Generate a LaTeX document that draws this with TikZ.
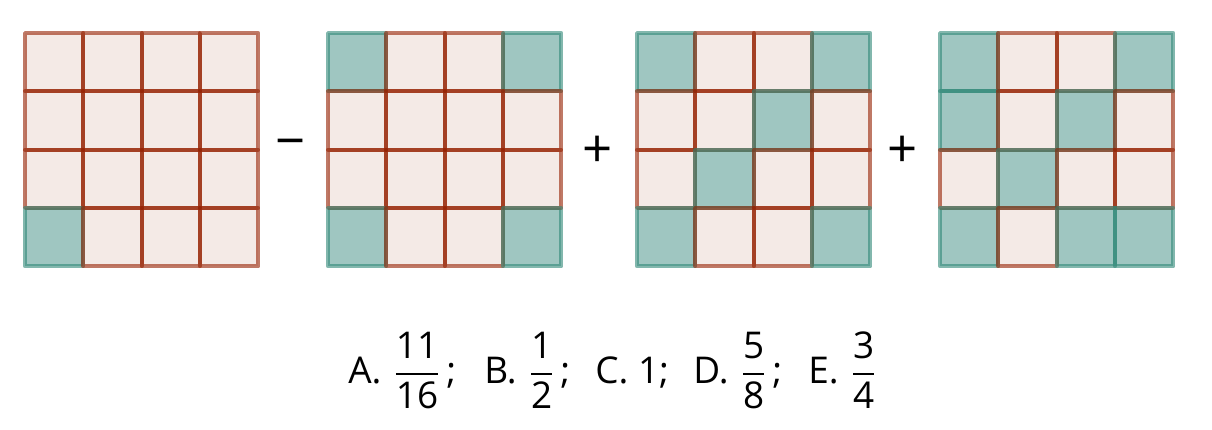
\documentclass[tikz,border=0pt]{standalone}
\usepackage{amsmath}
\usepackage{fontspec}
\setmainfont{Open Sans}
\definecolor{fillc}{HTML}{F4EAE6}
\definecolor{fillt}{HTML}{9FC6C1}
\definecolor{linec}{HTML}{952000}
\definecolor{linet}{HTML}{2F8776}
% one 4x4 board: left edge, rows of c (plain) / t (shaded)
\newcommand\board[2]{%
  \foreach \row [count=\r from 0] in {#2} {
    \foreach \k [count=\c from 0] in \row
      \fill[fill=fill\k] (#1+\c*58.33,33+\r*58.33) rectangle ++(58.33,58.33);
  }
  \foreach \row [count=\r from 0] in {#2} {
    \foreach \k [count=\c from 0] in \row
      \draw[edge, draw=line\k] (#1+\c*58.33,33+\r*58.33) rectangle ++(58.33,58.33);
  }}
\newcommand\frc[2]{$\genfrac{}{}{1.1pt}{0}{\mbox{\fontsize{21}{24}\selectfont #1}}{\mbox{\fontsize{21}{24}\selectfont #2}}$}
\begin{document}
\begin{tikzpicture}[x=0.02cm,y=-0.02cm,
    edge/.style={line width=2.2pt, draw opacity=0.6, line join=round},
    op/.style={font=\fontsize{30}{32}\selectfont, inner sep=0pt},
    answer/.style={anchor=base west, inner sep=0pt, font=\fontsize{21}{25}\selectfont}]
  \useasboundingbox (0,0) rectangle (1212,429);
  \board{25}{{c,c,c,c},{c,c,c,c},{c,c,c,c},{t,c,c,c}}
  \board{328}{{t,c,c,t},{c,c,c,c},{c,c,c,c},{t,c,c,t}}
  \board{637}{{t,c,c,t},{c,c,t,c},{c,t,c,c},{t,c,c,t}}
  \board{940}{{t,c,c,t},{t,c,t,c},{c,t,c,c},{t,c,t,t}}
  \node[op] (minus) at (291,149) {−};
  \node[op] (plusone) at (598,152) {+};
  \node[op] (plustwo) at (903,152) {+};
  \node[answer] (optA) at (348,383) {A.\hspace{7pt}\frc{11}{16}\,;};
  \node[answer] (optB) at (484,383) {B.\hspace{7pt}\frc{1}{2}\,;};
  \node[answer] (optC) at (595,383) {C.\ 1;};
  \node[answer] (optD) at (693,383) {D.\hspace{7pt}\frc{5}{8}\,;};
  \node[answer] (optE) at (808,383) {E.\hspace{7pt}\frc{3}{4}};
\end{tikzpicture}
\end{document}
